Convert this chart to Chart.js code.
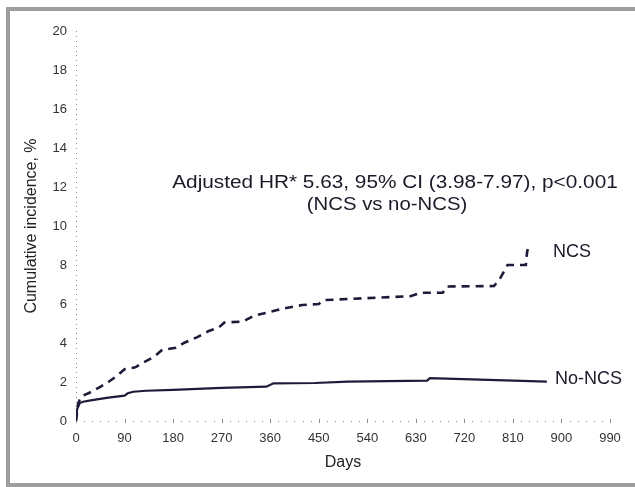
<!DOCTYPE html>
<html>
<head>
<meta charset="utf-8">
<script src="https://cdn.jsdelivr.net/npm/chart.js@4"></script>
<style>
  html, body { margin: 0; padding: 0; background: #fff; overflow: hidden; }
  #wrap { position: relative; width: 635px; height: 487px; }
  #frame { position: absolute; left: 6px; top: 7px; width: 700px; height: 472px;
           border-left: 4px solid #9e9e9e; border-top: 4px solid #9e9e9e; border-bottom: 4px solid #9e9e9e; }
  canvas { position: absolute; left: 0; top: 0; }
</style>
</head>
<body>
<div id="wrap">
  <div id="frame"></div>
  <canvas id="c" width="635" height="487"></canvas>
</div>
<script>
// ---- data ----
const ncsDays = [0, 4, 9, 25, 45, 60, 75, 90, 110, 125, 145, 160, 185, 200, 225, 245, 265, 275, 310, 330, 360, 390, 420, 450, 460, 540, 620, 640, 680, 688, 775, 786, 800, 834, 836, 838];
const ncsValues = [0, 0.9, 1.25, 1.45, 1.75, 2.0, 2.3, 2.65, 2.75, 3.0, 3.3, 3.65, 3.75, 4.0, 4.3, 4.6, 4.8, 5.05, 5.1, 5.4, 5.6, 5.8, 5.95, 6.0, 6.2, 6.3, 6.4, 6.58, 6.58, 6.9, 6.92, 7.3, 8.0, 8.0, 8.6, 8.9];
const noNcsDays = [0, 2, 7, 13, 30, 60, 90, 96, 106, 130, 180, 270, 353, 366, 443, 504, 651, 656, 873];
const noNcsValues = [0, 0.6, 0.92, 0.99, 1.07, 1.2, 1.3, 1.42, 1.5, 1.55, 1.6, 1.7, 1.76, 1.93, 1.95, 2.02, 2.07, 2.2, 2.02];
const xTickLabels = [0, 90, 180, 270, 360, 450, 540, 630, 720, 810, 900, 990];
const yTickLabels = [0, 2, 4, 6, 8, 10, 12, 14, 16, 18, 20];
const annotationLines = ['Adjusted HR* 5.63, 95% CI (3.98-7.97), p<0.001', '(NCS vs no-NCS)'];
const seriesNames = ['NCS', 'No-NCS'];
const xTitle = 'Days';
const yTitle = 'Cumulative incidence, %';

const toPts = (xs, ys) => xs.map((x, i) => ({ x: x, y: ys[i] }));
const lineColor = '#1c1c3a';
const FONT = "'Liberation Sans', Arial, sans-serif";

// dotted axes with small major ticks (decoration, positioned through the scales)
const axisPlugin = {
  id: 'dottedAxes',
  beforeDatasetsDraw(chart) {
    const ctx = chart.ctx, xs = chart.scales.x, ys = chart.scales.y;
    const y0 = Math.round(ys.getPixelForValue(0));
    const x0 = Math.round(xs.getPixelForValue(0));
    ctx.save();
    ctx.fillStyle = '#8c8c8c';
    for (let d = 0; d <= xs.max + 0.1; d += 15) {
      const px = Math.round(xs.getPixelForValue(d));
      ctx.fillRect(px, y0, 1, 1);
      if (d % 90 === 0) ctx.fillRect(px, y0 - 2, 1, 4);
    }
    for (let v = 0; v <= ys.max + 0.01; v += 0.25) {
      const py = Math.round(ys.getPixelForValue(v));
      ctx.fillRect(x0, py, 1, 1);
    }
    ctx.restore();
  }
};

const textPlugin = {
  id: 'texts',
  afterDraw(chart) {
    const ctx = chart.ctx;
    ctx.save();
    ctx.fillStyle = '#1a1a28';
    ctx.textBaseline = 'middle';
    ctx.textAlign = 'center';
    ctx.font = '18px ' + FONT;
    const drawScaled = (t, cx, cy, sx) => {
      ctx.save(); ctx.translate(cx, cy); ctx.scale(sx, 1); ctx.fillText(t, 0, 0); ctx.restore();
    };
    drawScaled(annotationLines[0], 395, 183, 1.155);
    drawScaled(annotationLines[1], 387, 205, 1.13);
    ctx.textAlign = 'left';
    ctx.fillText(seriesNames[0], 553, 252);
    ctx.fillText(seriesNames[1], 555, 379);
    ctx.restore();
  }
};

new Chart(document.getElementById('c'), {
  type: 'line',
  data: {
    datasets: [
      { label: seriesNames[0], data: toPts(ncsDays, ncsValues), borderColor: lineColor, borderWidth: 2.6,
        borderDash: [8, 6], pointRadius: 0, tension: 0, fill: false },
      { label: seriesNames[1], data: toPts(noNcsDays, noNcsValues), borderColor: lineColor, borderWidth: 2.2,
        pointRadius: 0, tension: 0, fill: false }
    ]
  },
  options: {
    responsive: false,
    animation: false,
    layout: { padding: { top: 31, right: 25, left: 0, bottom: 0 } },
    plugins: { legend: { display: false }, tooltip: { enabled: false } },
    scales: {
      x: {
        type: 'linear', min: 0, max: 990,
        afterBuildTicks: s => { s.ticks = xTickLabels.map(v => ({ value: v })); },
        afterFit: s => { s.height = 66; },
        grid: { display: false, drawTicks: false },
        border: { display: false },
        ticks: { color: '#333', font: { family: FONT, size: 13 }, padding: 10, maxRotation: 0 },
        title: { display: true, text: xTitle, color: '#222', font: { family: FONT, size: 16 }, padding: { top: 0, bottom: 15 } }
      },
      y: {
        type: 'linear', min: 0, max: 20,
        afterBuildTicks: s => { s.ticks = yTickLabels.map(v => ({ value: v })); },
        afterFit: s => { s.width = 76; },
        grid: { display: false, drawTicks: false },
        border: { display: false },
        ticks: { color: '#333', font: { family: FONT, size: 13 }, padding: 9 },
        title: { display: true, text: yTitle, color: '#222', font: { family: FONT, size: 16 }, padding: { top: 22, bottom: 0 } }
      }
    }
  },
  plugins: [axisPlugin, textPlugin]
});
</script>
</body>
</html>
